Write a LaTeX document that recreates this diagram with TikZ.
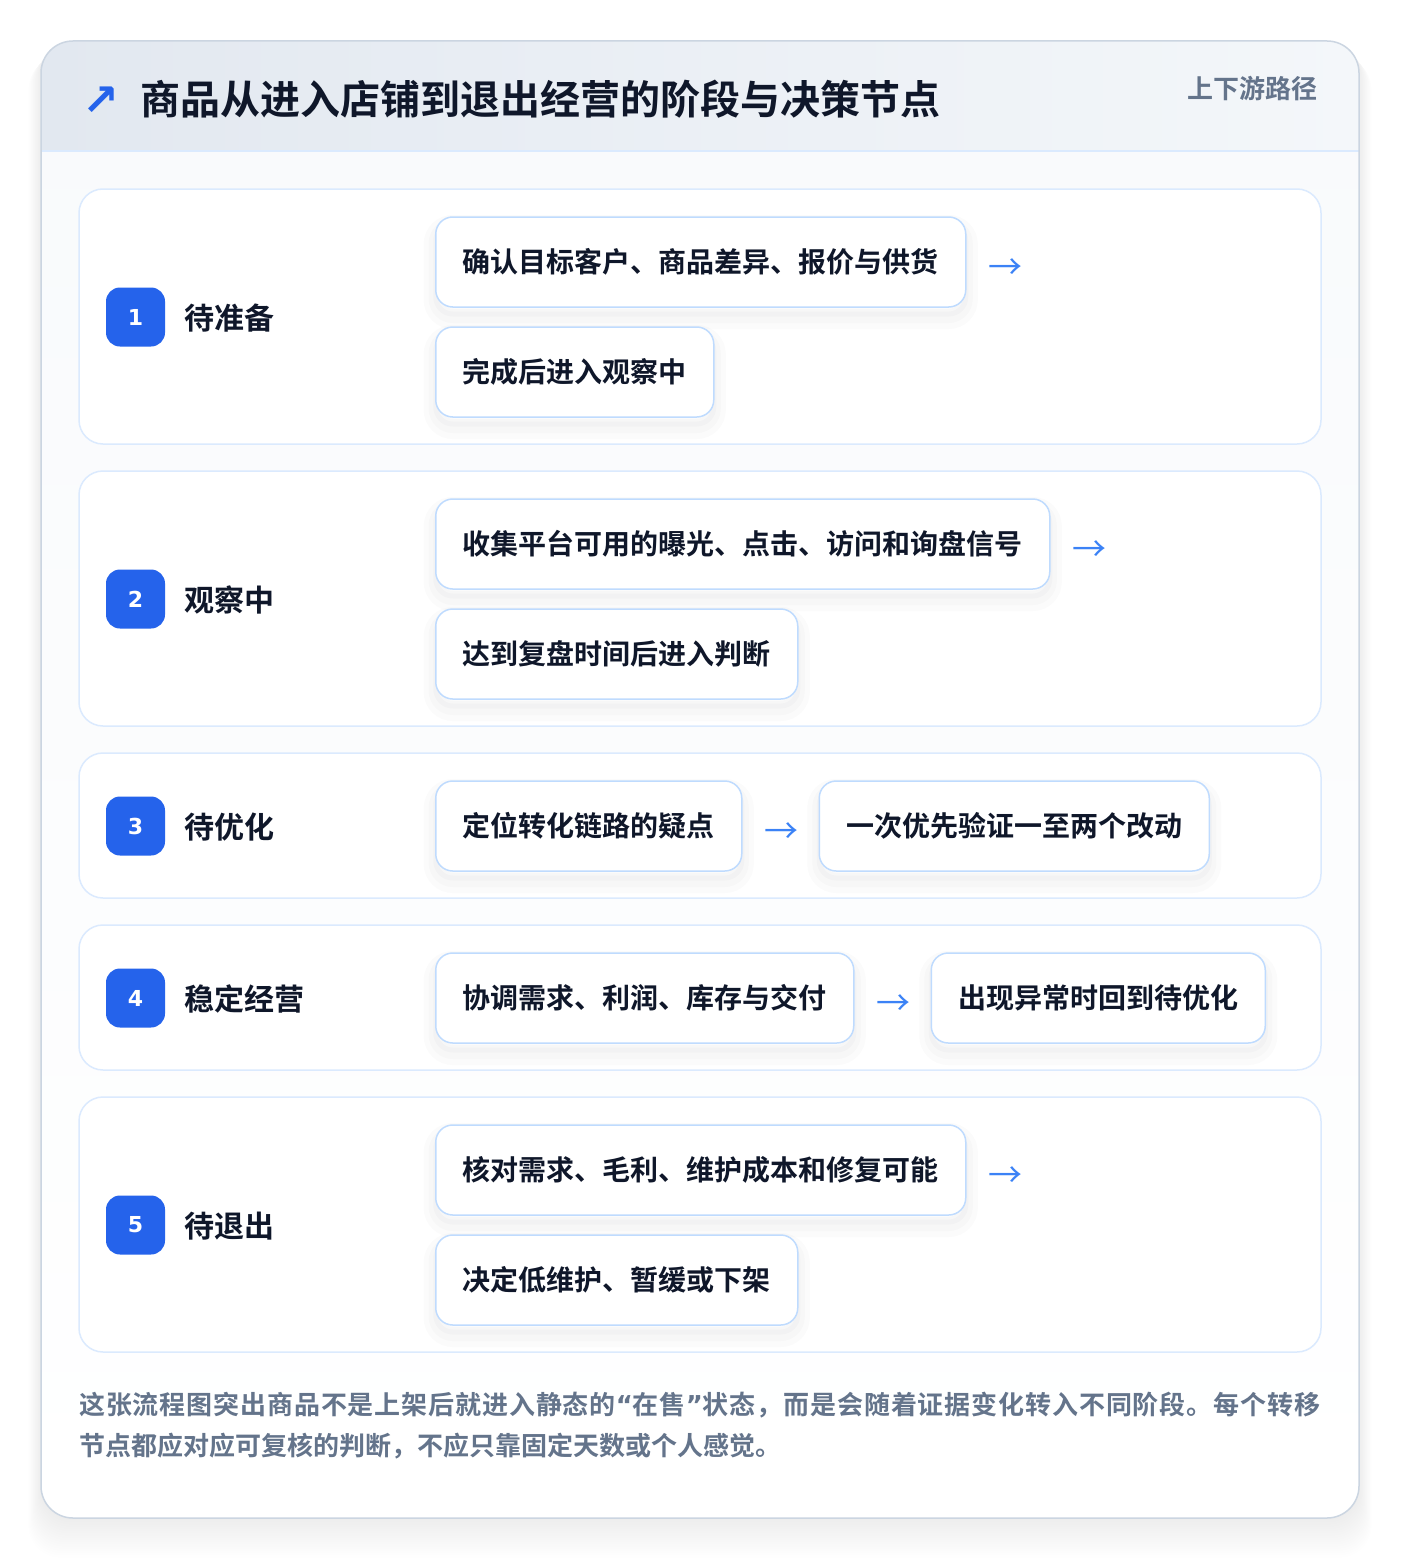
\documentclass[tikz,border=0pt]{standalone}
\usepackage{fontspec}
\setmainfont{Noto Sans CJK SC Bold}
\newfontfamily\symfont{DejaVu Sans Bold}
\newfontfamily\regfont{Noto Sans CJK SC}
\usetikzlibrary{calc}
\definecolor{titlec}{HTML}{0F172A}
\definecolor{mutedc}{HTML}{64748B}
\definecolor{badgec}{HTML}{2563EB}
\definecolor{arrowc}{HTML}{3B82F6}
\definecolor{cardc}{HTML}{DBEAFE}
\definecolor{stepc}{HTML}{BFDBFE}
\definecolor{outerc}{HTML}{CBD5E1}
\definecolor{hdrL}{HTML}{E2E8F0}
\definecolor{hdrR}{HTML}{F4F7FA}
\definecolor{bodyc}{HTML}{F8FAFC}
\definecolor{shadowc}{HTML}{1E293B}
\newcommand{\jline}[2]{{\XeTeXinterchartokenstate=1
  \XeTeXinterchartoks 1 1 = {\hskip 0pt plus 1pt}%
  \XeTeXinterchartoks 1 2 = {\hskip 0pt plus 1pt}%
  \XeTeXinterchartoks 1 3 = {\hskip 0pt plus 1pt}%
  \XeTeXinterchartoks 2 1 = {\hskip 0pt plus 1pt}%
  \XeTeXinterchartoks 3 1 = {\hskip 0pt plus 1pt}%
  \XeTeXinterchartoks 3 3 = {\hskip 0pt plus 1pt}%
  \XeTeXinterchartoks 0 1 = {\hskip 0pt plus 1pt}%
  \XeTeXinterchartoks 1 0 = {\hskip 0pt plus 1pt}%
  \XeTeXinterchartoks 0 0 = {\hskip 0pt plus 1pt}%
  \XeTeXinterchartoks 3 0 = {\hskip 0pt plus 1pt}%
  \XeTeXinterchartoks 0 3 = {\hskip 0pt plus 1pt}%
  \hbox to #1{#2}}}
\begin{document}
\begin{tikzpicture}[x=1pt,y=-1pt,
  stagecard/.style={draw=cardc, line width=1.5pt, fill=white, rounded corners=24pt, minimum width=1242pt, inner sep=0pt},
  badge/.style={fill=badgec, rounded corners=14pt, minimum size=59pt, inner sep=0pt, text=white, font=\symfont\fontsize{22}{22}\selectfont},
  stagelabel/.style={anchor=west, inner sep=0pt, text=titlec, font=\fontsize{30}{30}\selectfont},
  stepbox/.style={anchor=west, draw=stepc, line width=1.5pt, fill=white, rounded corners=17pt, minimum height=90pt, inner xsep=27pt, inner ysep=0pt, text=titlec, font=\fontsize{28}{28}\selectfont,
    preaction={draw=shadowc, draw opacity=0.014, line width=24pt, transform canvas={yshift=-10pt}},
    preaction={draw=shadowc, draw opacity=0.016, line width=14pt, transform canvas={yshift=-9pt}},
    preaction={draw=shadowc, draw opacity=0.018, line width=5pt, transform canvas={yshift=-7pt}}},
  arrowtxt/.style={inner sep=0pt, text=arrowc, font=\regfont\fontsize{34}{34}\selectfont},
  footer/.style={anchor=west, inner sep=0pt, text=mutedc, font=\fontsize{26}{26}\selectfont}]
\useasboundingbox (0,0) rectangle (1400,1560);
\fill[white] (0,0) rectangle (1400,1560);
% outer shadow
\foreach \i in {1,...,18}{
  \fill[shadowc, opacity=0.0045, rounded corners=32pt] ({41-\i*0.7},{41+\i*0.9}) rectangle ({1359+\i*0.7},{1518+\i*2.2});
}
% outer card body
\shade[top color=bodyc, bottom color=white, rounded corners=32pt] (41,41) rectangle (1359,1518);
\begin{scope}
  \clip[rounded corners=32pt] (41,41) rectangle (1359,1518);
  \shade[left color=hdrL, right color=hdrR] (41,41) rectangle (1359,151);
\end{scope}
\draw[cardc, line width=1.5pt] (41,151) -- (1359,151);
\draw[outerc, line width=1.5pt, rounded corners=32pt] (41,41) rectangle (1359,1518);
% header
\node[text=badgec, font=\symfont\fontsize{44}{44}\selectfont, inner sep=0pt] (icon) at (101,101) {↗};
\node[anchor=west, inner sep=0pt, text=titlec, font=\fontsize{40}{40}\selectfont] (title) at (140,99) {商品从进入店铺到退出经营的阶段与决策节点};
\node[anchor=east, inner sep=0pt, text=mutedc, font=\fontsize{26}{26}\selectfont] (route) at (1318,89) {上下游路径};
% stage cards
\node[stagecard, minimum height=255pt] (c1) at (700,316.5) {};
\node[stagecard, minimum height=255pt] (c2) at (700,598.5) {};
\node[stagecard, minimum height=145pt] (c3) at (700,825.5) {};
\node[stagecard, minimum height=145pt] (c4) at (700,997.5) {};
\node[stagecard, minimum height=255pt] (c5) at (700,1224.5) {};
% badges and labels
\node[badge] (b1) at (135.5,317) {1};
\node[stagelabel] (l1) at (184,318) {待准备};
\node[badge] (b2) at (135.5,599) {2};
\node[stagelabel] (l2) at (184,600) {观察中};
\node[badge] (b3) at (135.5,826) {3};
\node[stagelabel] (l3) at (184,827) {待优化};
\node[badge] (b4) at (135.5,998) {4};
\node[stagelabel] (l4) at (184,999) {稳定经营};
\node[badge] (b5) at (135.5,1225) {5};
\node[stagelabel] (l5) at (184,1226) {待退出};
% stage 1
\node[stepbox] (s11) at (435,262) {确认目标客户、商品差异、报价与供货};
\node[arrowtxt] (a1) at ($(s11.east)+(39,7)$) {→};
\node[stepbox] (s12) at (435,372) {完成后进入观察中};
% stage 2
\node[stepbox] (s21) at (435,544) {收集平台可用的曝光、点击、访问和询盘信号};
\node[arrowtxt] (a2) at ($(s21.east)+(39,7)$) {→};
\node[stepbox] (s22) at (435,654) {达到复盘时间后进入判断};
% stage 3
\node[stepbox] (s31) at (435,826) {定位转化链路的疑点};
\node[arrowtxt] (a3) at ($(s31.east)+(39,7)$) {→};
\node[stepbox] (s32) at ($(s31.east)+(76,0)$) {一次优先验证一至两个改动};
% stage 4
\node[stepbox] (s41) at (435,998) {协调需求、利润、库存与交付};
\node[arrowtxt] (a4) at ($(s41.east)+(39,7)$) {→};
\node[stepbox] (s42) at ($(s41.east)+(76,0)$) {出现异常时回到待优化};
% stage 5
\node[stepbox] (s51) at (435,1170) {核对需求、毛利、维护成本和修复可能};
\node[arrowtxt] (a5) at ($(s51.east)+(39,7)$) {→};
\node[stepbox] (s52) at (435,1280) {决定低维护、暂缓或下架};
% footer
\node[footer] (f1) at (79,1405) {\jline{1241pt}{这张流程图突出商品不是上架后就进入静态的{\symfont “}在售{\symfont ”}状态，而是会随着证据变化转入不同阶段。每个转移}};
\node[footer] (f2) at (79,1446) {节点都应对应可复核的判断，不应只靠固定天数或个人感觉。};
\end{tikzpicture}
\end{document}
